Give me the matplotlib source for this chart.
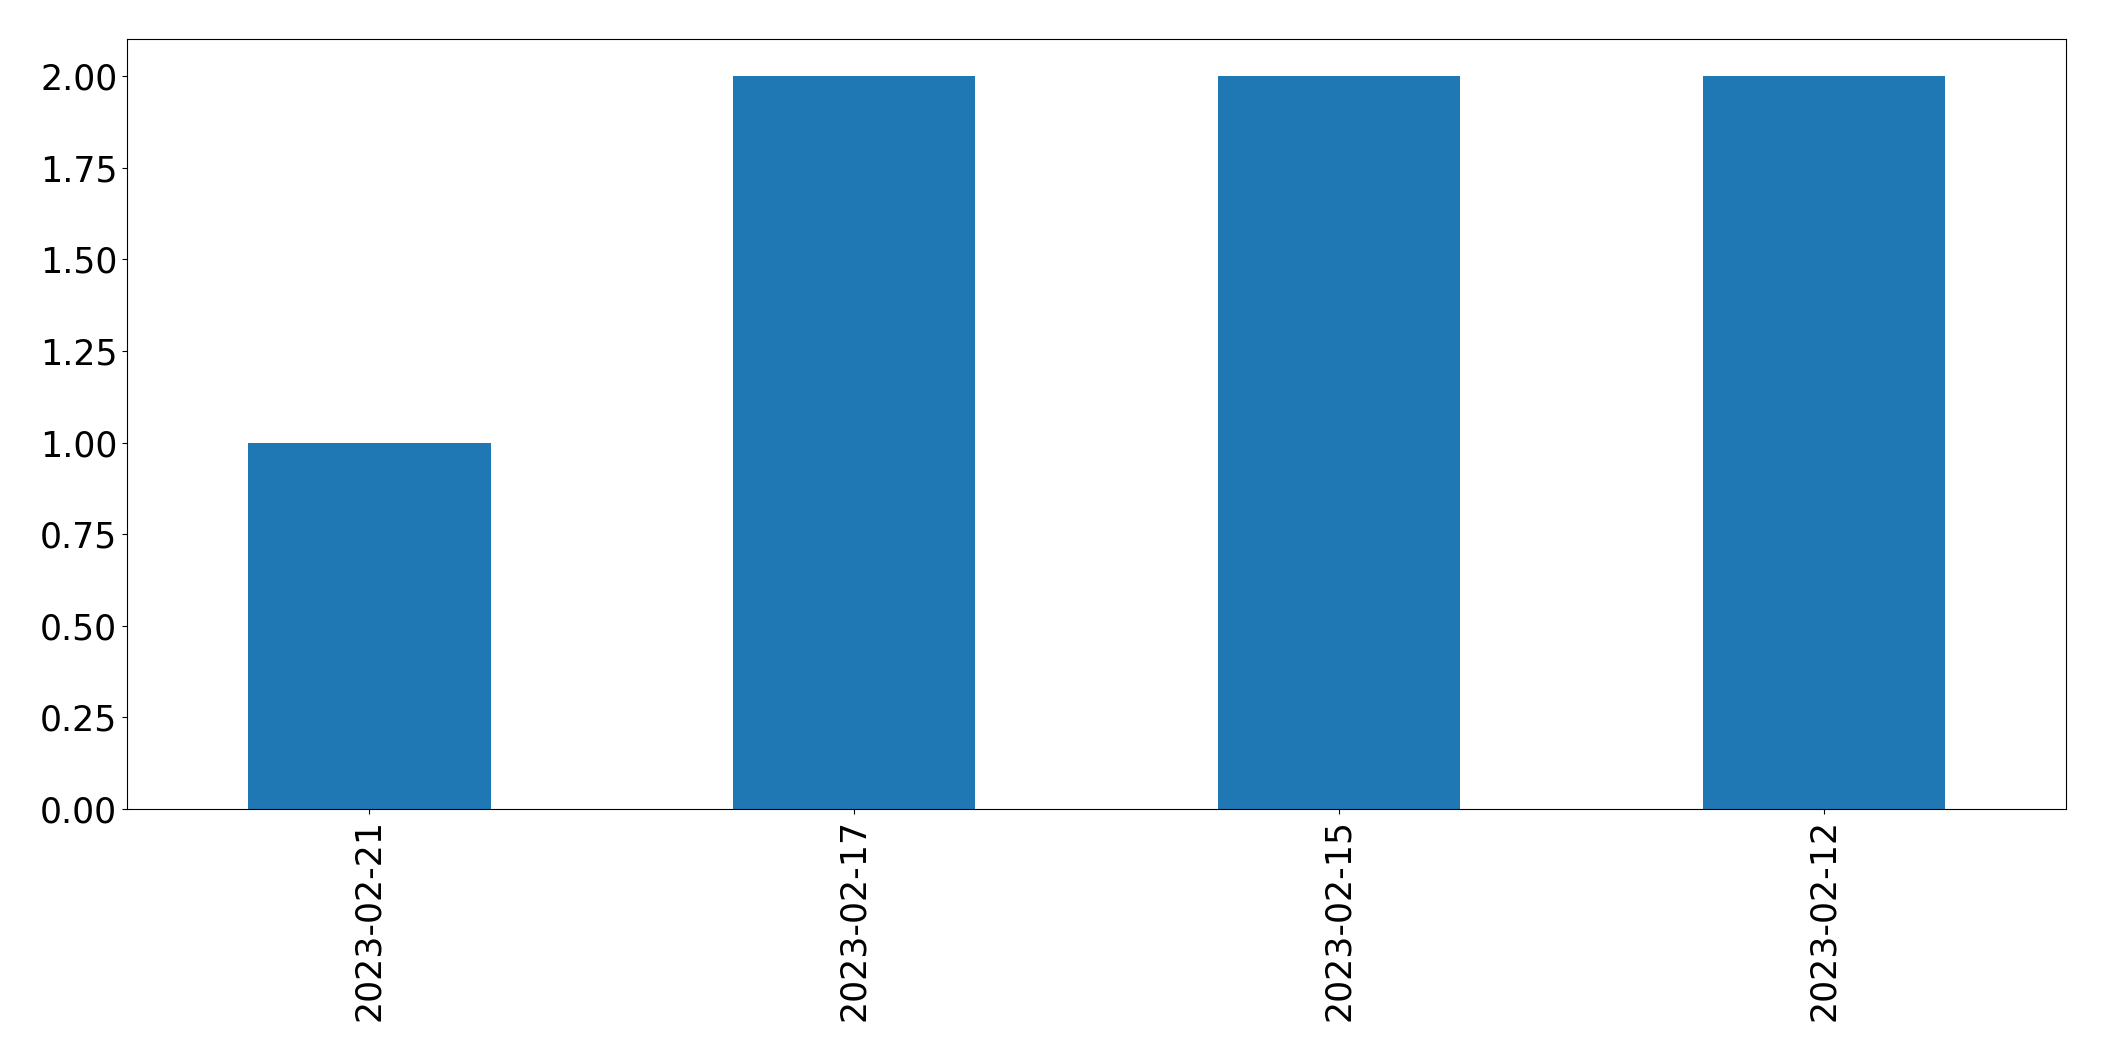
import matplotlib
matplotlib.use("Agg")
import matplotlib.pyplot as plt
import numpy as np

# Data
fechas = ["2023-02-21", "2023-02-17", "2023-02-15", "2023-02-12"]
conteos = [1, 2, 2, 2]

fig = plt.figure(figsize=(21.04, 10.61), dpi=100)
ax = fig.add_axes([0.0604, 0.2375, 0.9216, 0.7253])

x = np.arange(len(fechas))
ax.bar(x, conteos, width=0.5, color="#1f77b4")
ax.set_xlim(-0.5, len(fechas) - 0.5)
ax.set_ylim(0, 2.1)
ax.set_yticks(np.arange(0, 2.01, 0.25))
ax.set_xticks(x)
ax.set_xticklabels(fechas, rotation=90)
ax.tick_params(axis="both", labelsize=25)

fig.savefig("out.png", dpi=100)
